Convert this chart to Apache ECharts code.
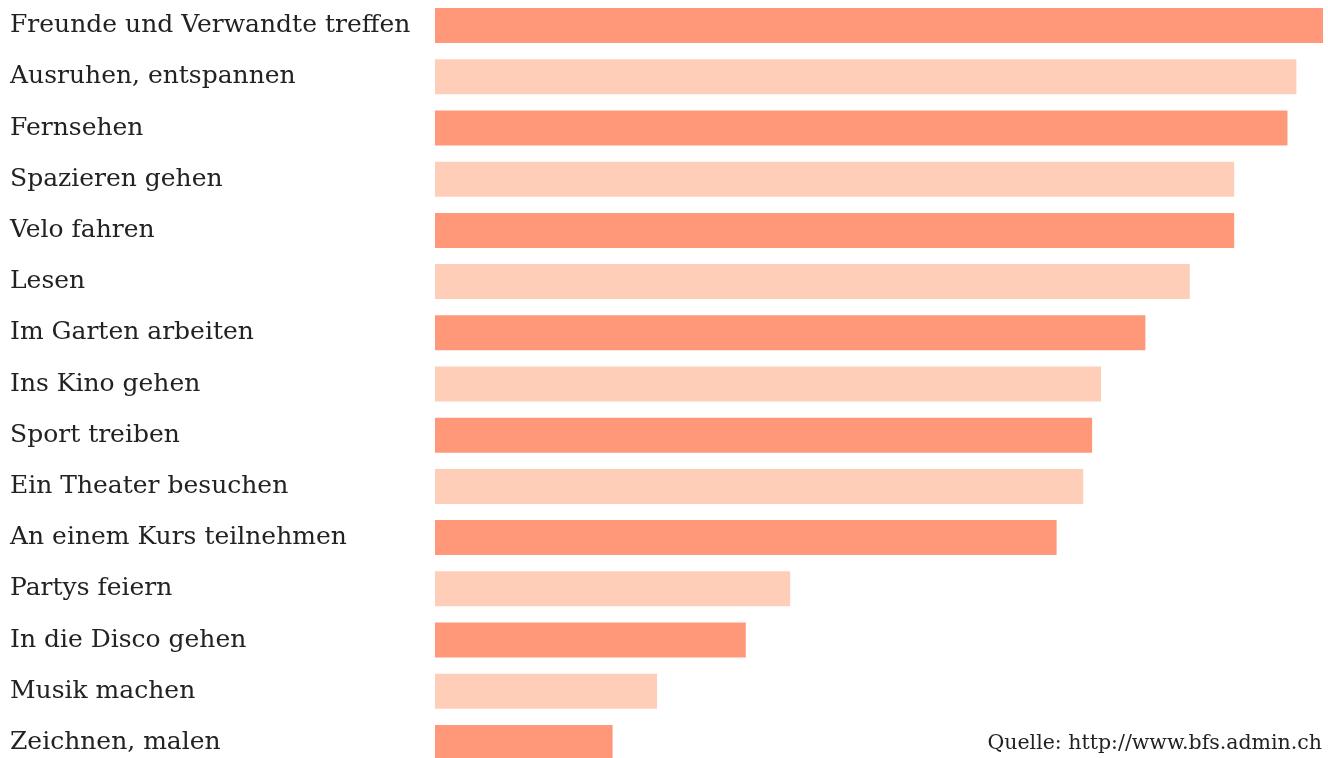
<!DOCTYPE html>
<html>
<head>
<meta charset="utf-8">
<script src="https://cdn.jsdelivr.net/npm/echarts@6/dist/echarts.min.js"></script>
<style>
html,body{margin:0;padding:0;background:#fff;}
#chart{width:1328px;height:758px;}
</style>
</head>
<body>
<div id="chart"></div>
<script>
const categories = [
  "Freunde und Verwandte treffen",
  "Ausruhen, entspannen",
  "Fernsehen",
  "Spazieren gehen",
  "Velo fahren",
  "Lesen",
  "Im Garten arbeiten",
  "Ins Kino gehen",
  "Sport treiben",
  "Ein Theater besuchen",
  "An einem Kurs teilnehmen",
  "Partys feiern",
  "In die Disco gehen",
  "Musik machen",
  "Zeichnen, malen"
];
const values = [100, 97, 96, 90, 90, 85, 80, 75, 74, 73, 70, 40, 35, 25, 20];
const colors = ["#FF9878", "#FFCEB8"];
const sourceText = "Quelle: http://www.bfs.admin.ch";

const chart = echarts.init(document.getElementById('chart'), null, {renderer: 'canvas'});
const FONT = '"DejaVu Serif", serif';
chart.setOption({
  animation: false,
  grid: {left: 435, right: 5, top: 0, bottom: -10, containLabel: false, outerBoundsMode: 'none'},
  xAxis: {type: 'value', min: 0, max: 100, show: false},
  yAxis: {
    type: 'category',
    inverse: true,
    data: categories,
    axisLine: {show: false},
    axisTick: {show: false},
    splitLine: {show: false},
    axisLabel: {
      align: 'left',
      margin: 425,
      color: '#222222',
      fontFamily: FONT,
      fontSize: 25,
      padding: [2, 0, 0, 0]
    }
  },
  series: [{
    type: 'bar',
    barWidth: 35,
    data: values.map((v, i) => ({value: v, itemStyle: {color: colors[i % 2]}}))
  }],
  graphic: [{
    type: 'text',
    right: 6,
    top: 733,
    style: {text: sourceText, fill: '#222222', font: '20.5px ' + FONT}
  }]
});
</script>
</body>
</html>
